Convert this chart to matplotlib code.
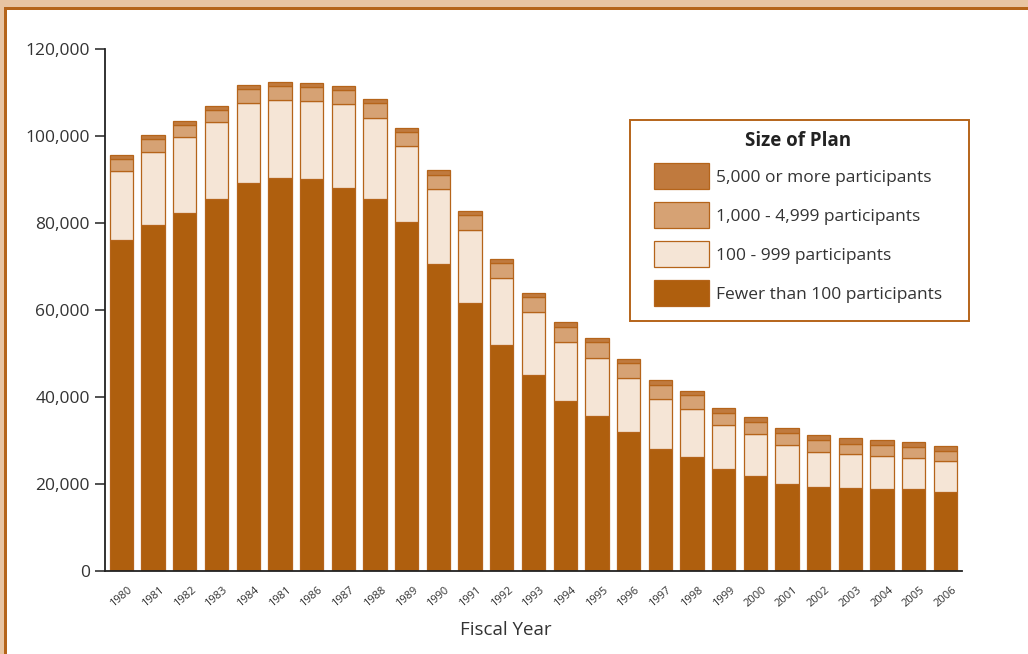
import numpy as np
import matplotlib
matplotlib.use('Agg')
import matplotlib.pyplot as plt
from matplotlib.patches import Rectangle

plt.rcParams['font.family'] = ['Open Sans', 'DejaVu Sans']

# --- Data ---
year_labels = ['1980', '1981', '1982', '1983', '1984', '1981', '1986', '1987', '1988',
               '1989', '1990', '1991', '1992', '1993', '1994', '1995', '1996', '1997',
               '1998', '1999', '2000', '2001', '2002', '2003', '2004', '2005', '2006']
fewer_100 = [76100, 79700, 82400, 85600, 89200, 90300, 90200, 88200, 85600, 80300,
             70700, 61600, 52000, 45100, 39100, 35700, 32000, 28000, 26300, 23500,
             21800, 20100, 19300, 19000, 18900, 18800, 18200]
p100_999 = [15900, 16700, 17400, 17600, 18400, 18100, 17900, 19200, 18700, 17400,
            17100, 16900, 15300, 14400, 13500, 13400, 12300, 11600, 10900, 10000,
            9600, 8900, 8100, 7800, 7500, 7200, 7000]
p1000_4999 = [2800, 2900, 2900, 2900, 3200, 3100, 3200, 3300, 3300, 3200,
              3300, 3400, 3500, 3500, 3500, 3500, 3500, 3200, 3200, 2900,
              2900, 2800, 2700, 2500, 2500, 2500, 2400]
p5000 = [800, 900, 900, 900, 900, 900, 900, 900, 900, 900,
         1100, 1000, 1000, 900, 1100, 1100, 1000, 1100, 1100, 1100,
         1100, 1100, 1100, 1200, 1200, 1100, 1100]

series_labels = ['Fewer than 100 participants', '100 - 999 participants',
                 '1,000 - 4,999 participants', '5,000 or more participants']
series_colors = ['#AF5F0E', '#F5E5D6', '#D6A274', '#C07A3E']
edge = '#B5641A'

W, H = 1028, 654
fig = plt.figure(figsize=(W / 100, H / 100), dpi=100)
ax = fig.add_axes([0.1024, 0.1269, 0.8331, 0.7977])

x = np.arange(len(year_labels))
bottom = np.zeros(len(x))
handles = []
for vals, lab, col in zip([fewer_100, p100_999, p1000_4999, p5000], series_labels, series_colors):
    b = ax.bar(x, vals, width=0.735, bottom=bottom, color=col, edgecolor=edge,
               linewidth=0.9, label=lab)
    handles.append(b)
    bottom += np.array(vals)

ax.set_xlim(-0.51, len(x) - 0.49)
ax.set_ylim(0, 120000)
ax.set_yticks(np.arange(0, 120001, 20000))
ax.set_yticklabels([f'{v:,}' for v in range(0, 120001, 20000)])
ax.set_xticks(x)
ax.set_xticklabels(year_labels, rotation=40, ha='center', fontsize=8, color='#333333')
ax.tick_params(axis='x', length=0, pad=10)
ax.tick_params(axis='y', length=7, width=1.2, pad=4, labelsize=12.5, labelcolor='#333333',
               color='#333333')

for s in ['top', 'right']:
    ax.spines[s].set_visible(False)
for s in ['left', 'bottom']:
    ax.spines[s].set_linewidth(1.3)
    ax.spines[s].set_color('#222222')

ax.set_xlabel('Fiscal Year', fontsize=13.5, color='#333333')
ax.xaxis.set_label_coords(0.468, -0.095)

# legend frame drawn by hand, legend content placed inside it
frame = Rectangle((630 / W, 1 - 321 / H), 339 / W, 201 / H, transform=fig.transFigure,
                  facecolor='white', edgecolor=edge, linewidth=1.4, zorder=4, clip_on=False)
ax.add_patch(frame)
leg = ax.legend(handles[::-1], series_labels[::-1], title='Size of Plan',
                loc='upper left', bbox_to_anchor=(654 / W, 1 - 130.5 / H),
                bbox_transform=fig.transFigure, borderaxespad=0, fontsize=12.5,
                title_fontproperties={'weight': 'bold', 'size': 13.5},
                handlelength=3.15, handleheight=2.0, labelspacing=0.7,
                handletextpad=0.4, borderpad=0, frameon=False)
leg.set_zorder(6)
for t in leg.get_texts():
    t.set_color('#333333')
leg.get_title().set_color('#222222')

# page border (top and left)
fig.patches.append(Rectangle((0, 1 - 7 / H), 1, 7 / H, transform=fig.transFigure,
                             facecolor='#E8C4A2', edgecolor='none'))
fig.patches.append(Rectangle((0, 0), 3.5 / W, 1, transform=fig.transFigure,
                             facecolor='#E8C4A2', edgecolor='none'))
fig.patches.append(Rectangle((3.5 / W, 1 - 9.5 / H), 1, 2.8 / H, transform=fig.transFigure,
                             facecolor=edge, edgecolor='none'))
fig.patches.append(Rectangle((3.5 / W, 0), 3 / W, 1 - 7 / H, transform=fig.transFigure,
                             facecolor=edge, edgecolor='none'))

fig.savefig('out.png', dpi=100)
